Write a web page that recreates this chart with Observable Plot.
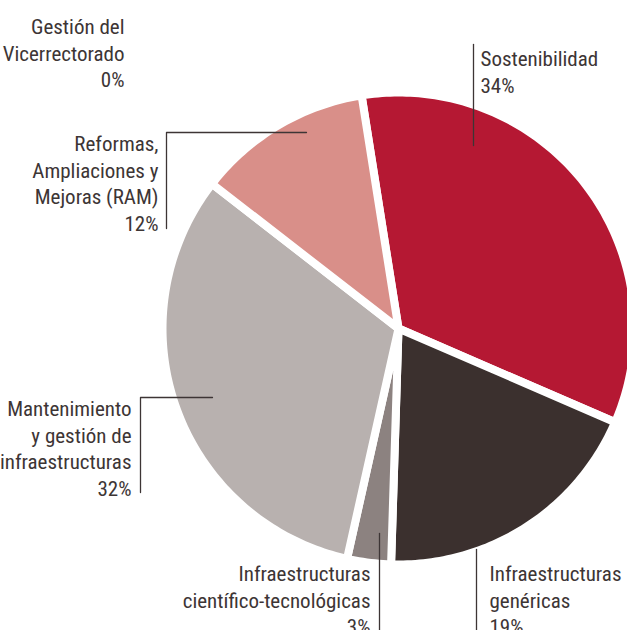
<!DOCTYPE html>
<html><head><meta charset="utf-8">
<script src="https://cdn.jsdelivr.net/npm/d3@7"></script>
<script src="https://cdn.jsdelivr.net/npm/@observablehq/plot@0.6"></script>
<style>body{margin:0;background:#fff;overflow:hidden}</style>
</head><body><div id="chart"></div>
<script>
// ---- data ----
const categories = [
  "Gestión del Vicerrectorado",
  "Sostenibilidad",
  "Infraestructuras genéricas",
  "Infraestructuras científico-tecnológicas",
  "Mantenimiento y gestión de infraestructuras",
  "Reformas, Ampliaciones y Mejoras (RAM)"
];
const values = [0, 34, 19, 3, 32, 12];
const labelLines = [
  ["Gestión del", "Vicerrectorado"],
  ["Sostenibilidad"],
  ["Infraestructuras", "genéricas"],
  ["Infraestructuras", "científico-tecnológicas"],
  ["Mantenimiento", "y gestión de", "infraestructuras"],
  ["Reformas,", "Ampliaciones y", "Mejoras (RAM)"]
];
const colors = ["#ded7d5", "#b51833", "#3b302e", "#8c8280", "#b8b1af", "#d98f89"];

// ---- layout (pixels) ----
const W = 627, H = 630;
const CX = 398, CY = 328, RG = 236;         // pie centre and geometric radius
const START = -9 * Math.PI / 180;
const toX = px => (px - CX) / RG;
const toY = py => (py - CY) / RG;

// label boxes: [anchor, textX, textTopY] and leader polylines in pixels
const layout = [
  {anchor: "end",   tx: 124, ty: 15,  leader: []},
  {anchor: "start", tx: 480, ty: 47,  leader: [[473, 44], [473, 145]]},
  {anchor: "start", tx: 489, ty: 562, leader: [[476, 549], [476, 632]]},
  {anchor: "end",   tx: 370, ty: 562, leader: [[379, 533], [379, 632]]},
  {anchor: "end",   tx: 131, ty: 397, leader: [[212, 397], [140, 397], [140, 492]]},
  {anchor: "end",   tx: 158, ty: 132, leader: [[306, 132], [166, 132], [166, 228]]}
];

const table = categories.map((name, i) => ({name, value: values[i], color: colors[i], i}));
const arcs = d3.pie().value(d => d.value).sort(null)
  .startAngle(START).endAngle(START + 2 * Math.PI)(table);

// slice outlines from the pie angles
const slicePts = [];
for (const a of arcs) {
  if (a.data.value <= 0) continue;
  const name = a.data.name;
  slicePts.push({name, x: 0, y: 0});
  const n = Math.max(2, Math.ceil((a.endAngle - a.startAngle) / (Math.PI / 180)));
  for (let k = 0; k <= n; k++) {
    const t = a.startAngle + (a.endAngle - a.startAngle) * k / n;
    slicePts.push({name, x: Math.sin(t), y: -Math.cos(t)});
  }
  slicePts.push({name, x: 0, y: 0});
}

const leaderPts = [];
layout.forEach((l, i) => l.leader.forEach(([px, py]) => leaderPts.push({i, x: toX(px), y: toY(py)})));

const labels = table.map((d, i) => ({
  x: toX(layout[i].tx), y: toY(layout[i].ty), anchor: layout[i].anchor,
  text: labelLines[i].join("\n") + "\n" + Math.round(d.value) + "%"
}));

const font = "'Roboto Condensed', 'Liberation Sans Narrow', Roboto, sans-serif";
const textOpts = {x: "x", y: "y", text: "text", lineAnchor: "top", lineHeight: 1.26,
  fontSize: 21, fontFamily: font, fill: "#3d3535"};

const chart = Plot.plot({
  width: W, height: H, margin: 0,
  x: {domain: [-1, 1], range: [CX - RG, CX + RG], axis: null},
  y: {domain: [-1, 1], range: [CY - RG, CY + RG], axis: null},
  color: {domain: categories, range: colors},
  marks: [
    Plot.line(slicePts, {x: "x", y: "y", z: "name", fill: "name", stroke: "white", strokeWidth: 8}),
    Plot.line(leaderPts, {x: "x", y: "y", z: "i", stroke: "#3d3535", strokeWidth: 1.3}),
    Plot.text(labels.filter(d => d.anchor === "end"), {...textOpts, textAnchor: "end"}),
    Plot.text(labels.filter(d => d.anchor === "start"), {...textOpts, textAnchor: "start"})
  ]
});
document.getElementById("chart").appendChild(chart);
</script>
</body></html>
